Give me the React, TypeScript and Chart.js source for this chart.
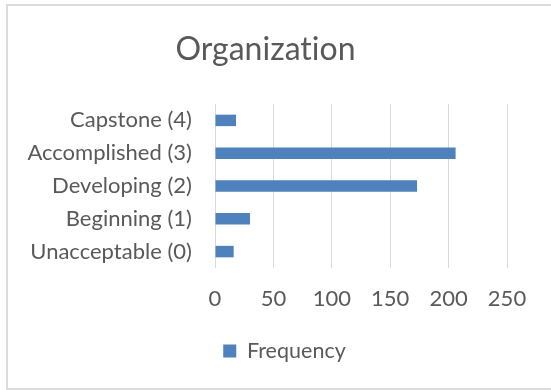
import React, { useEffect, useRef } from "react";
import { Chart, registerables } from "chart.js";

Chart.register(...registerables);

// Rubric levels, lowest first
const levels = [
  "Unacceptable (0)",
  "Beginning (1)",
  "Developing (2)",
  "Accomplished (3)",
  "Capstone (4)",
];
// Number of scores at each level
const frequency = [16, 30, 173, 206, 18];
const seriesName = "Frequency";
const chartTitle = "Organization";
const axisMax = 250;
const axisStep = 50;

const FONT = "Lato, Carlito, Calibri, sans-serif";
const TEXT = "#595959";
const BAR = "#4f81bd";
const GRID = "#d9d9d9";

// A tiny letter spacing keeps the "ti" pair as two separate glyphs.
const plainLetters = {
  id: "plainLetters",
  beforeLayout(chart: any) {
    chart.ctx.letterSpacing = "0.01px";
  },
  beforeDraw(chart: any) {
    chart.ctx.letterSpacing = "0.01px";
  },
};

// Nudges the centred legend to sit under the plot like an Office chart.
const legendOffset = {
  id: "legendOffset",
  afterLayout(chart: any) {
    const lg = chart.legend;
    if (lg) {
      lg.left += 19;
      lg.right += 19;
    }
  },
};

export default function App() {
  const ref = useRef<HTMLCanvasElement | null>(null);

  useEffect(() => {
    if (!ref.current) return;
    const chart = new Chart(ref.current, {
      type: "bar",
      data: {
        labels: levels,
        datasets: [
          {
            label: seriesName,
            data: frequency,
            backgroundColor: BAR,
            borderWidth: 0,
            categoryPercentage: 0.5,
            barPercentage: 0.7,
          },
        ],
      },
      plugins: [plainLetters, legendOffset],
      options: {
        indexAxis: "y",
        animation: false,
        responsive: false,
        maintainAspectRatio: false,
        layout: { padding: { left: 24, right: 44, top: 0, bottom: 18.25 } },
        scales: {
          x: {
            min: 0,
            max: axisMax,
            border: { display: false },
            grid: { color: GRID, lineWidth: 1, drawTicks: false },
            ticks: {
              stepSize: axisStep,
              padding: 17.8,
              color: TEXT,
              font: { family: FONT, size: 22 },
            },
            afterFit: (s: any) => {
              s.height = 62.25;
            },
          },
          y: {
            reverse: true,
            border: { display: false },
            grid: { display: false, drawTicks: false },
            ticks: {
              padding: 23,
              color: TEXT,
              font: { family: FONT, size: 22 },
            },
            afterFit: (s: any) => {
              s.width = 191;
            },
          },
        },
        plugins: {
          title: {
            display: true,
            text: chartTitle,
            color: TEXT,
            font: { family: FONT, size: 32, weight: "normal" },
            padding: { top: 30.8, bottom: 34.8 },
          },
          legend: {
            position: "bottom",
            labels: {
              boxWidth: 13,
              boxHeight: 13,
              padding: 10,
              color: TEXT,
              font: { family: FONT, size: 21.5 },
            },
          },
          tooltip: { enabled: false },
        },
      },
    });
    return () => chart.destroy();
  }, []);

  return (
    <div
      style={{
        position: "fixed",
        left: 0,
        top: 0,
        width: 551,
        height: 390,
        background: "#fff",
        overflow: "hidden",
      }}
    >
      <div
        style={{
          position: "absolute",
          left: 6,
          top: 4,
          width: 600,
          height: 382,
          border: "2px solid #dcdcdc",
        }}
      />
      <canvas
        ref={ref}
        width={551}
        height={390}
        style={{ position: "absolute", left: 0, top: 0, width: 551, height: 390 }}
      />
    </div>
  );
}
